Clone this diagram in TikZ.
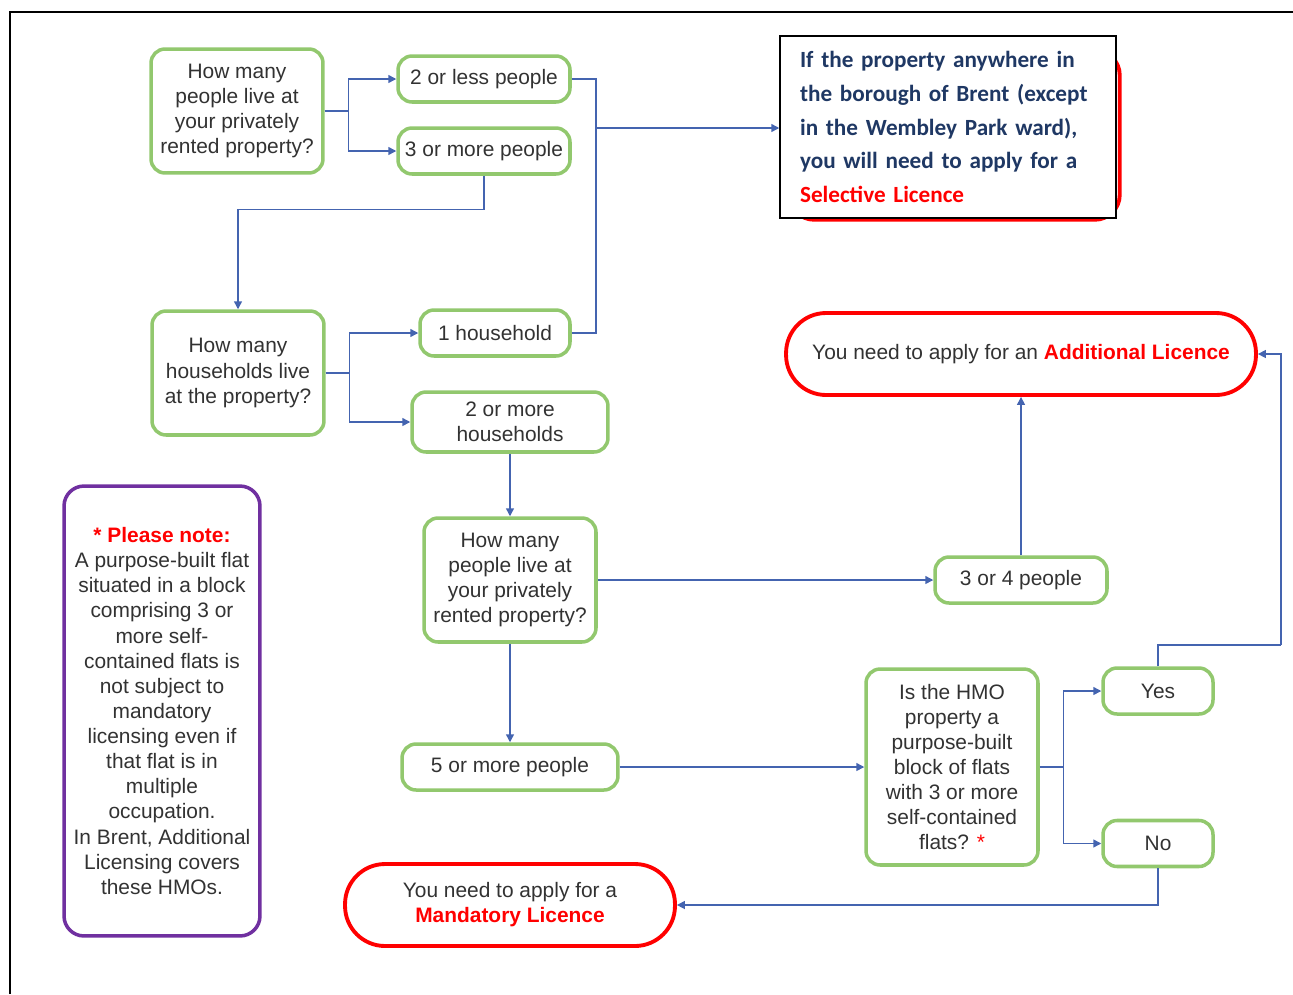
\documentclass[tikz,border=0pt]{standalone}
\usepackage{fontspec}
\setmainfont{Liberation Sans}
\newfontfamily\calibrifont{Carlito}
\usetikzlibrary{positioning, arrows.meta, backgrounds}
\definecolor{boxgreen}{RGB}{146,200,110}
\definecolor{linkblue}{RGB}{68,100,176}
\definecolor{notepurple}{RGB}{112,48,160}
\definecolor{textgrey}{RGB}{50,50,50}
\definecolor{selnavy}{RGB}{31,56,100}
\tikzstyle{greenbox} = [
    rectangle, rounded corners=8pt, draw=boxgreen, line width=2pt, fill=white,
    text=textgrey, align=center, inner sep=2pt,
    font=\fontsize{11.9pt}{14.3pt}\selectfont
]
\tikzstyle{question} = [greenbox, minimum width=3.44cm, minimum height=2.48cm]
\tikzstyle{answer} = [greenbox, minimum width=3.44cm, minimum height=0.92cm]
\tikzstyle{outcome} = [
    greenbox, draw=red, line width=2.2pt, rounded corners=0.8cm,
    minimum height=1.64cm
]
\tikzstyle{notebox} = [
    greenbox, draw=notepurple, rounded corners=0.4cm,
    minimum width=3.92cm, minimum height=9cm
]
\tikzstyle{selbox} = [
    rectangle, draw=black, line width=0.9pt, fill=white,
    minimum width=6.72cm, minimum height=3.64cm, text width=5.92cm, align=left,
    text=selnavy, font=\calibrifont\bfseries\fontsize{13.2pt}{19.3pt}\selectfont
]
\tikzstyle{wire} = [draw=linkblue, line width=0.8pt]
\tikzstyle{link} = [wire, -{Triangle[length=4.5pt,width=4.5pt]}]

\begin{document}
\begin{tikzpicture}[x=0.02cm, y=-0.02cm]
        \useasboundingbox (0,0) rectangle (1293,994);
        % page frame (top and left edge only)
        \draw[line width=0.7pt] (10,994) -- (10,12) -- (1293,12);

        % Questions
        \node[question] (q1) at (237,111) {How many\\people live at\\your privately\\rented property?};
        \node[question] (q2) at (238,373) {How many\\households live\\at the property?};
        \node[question] (q3) at (510,580) {How many\\people live at\\your privately\\rented property?};
        \node[question, minimum height=3.92cm] (hmo) at (952,767) {Is the HMO\\property a\\purpose-built\\block of flats\\with 3 or more\\self-contained\\flats? \textcolor{red}{*}};

        % Answers
        \node[answer] (less2) at (484,79) {2 or less people};
        \node[answer] (more3) [below=0.45cm of less2] {3 or more people};
        \node[answer, minimum width=3cm] (hh1) at (495,333) {1 household};
        \node[answer, minimum width=3.92cm, minimum height=1.2cm] (hh2) at (510,422) {2 or more\\households};
        \node[answer] (p34) at (1021,580) {3 or 4 people};
        \node[answer, minimum width=4.32cm] (p5) at (510,767) {5 or more people};
        \node[answer, minimum width=2.2cm] (yes) at (1158,691) {Yes};
        \node[answer, minimum width=2.2cm] (no) [below=2.06cm of yes] {No};

        % Outcomes
        \node[selbox] (sel) at (948,127) {If the property anywhere in\\the borough of Brent (except\\in the Wembley Park ward),\\you will need to apply for a\\\textcolor{red}{Selective Licence}};
        \begin{scope}[on background layer]
            \draw[red, line width=2.2pt, rounded corners=0.5cm] ([xshift=0.2cm, yshift=-0.3cm]sel.north west) rectangle ([xshift=0.06cm, yshift=-0.02cm]sel.south east);
        \end{scope}
        \node[outcome, minimum width=9.4cm] (addl) at (1021,354) {You need to apply for an \textcolor{red}{\bfseries Additional Licence}};
        \node[outcome, minimum width=6.6cm] (mand) at (510,905) {You need to apply for a\\\textcolor{red}{\bfseries Mandatory Licence}};

        % Note
        \node[notebox] (note) at (162,711) {\textcolor{red}{\bfseries * Please note:}\\A purpose-built flat\\situated in a block\\comprising 3 or\\more self-\\contained flats is\\not subject to\\mandatory\\licensing even if\\that flat is in\\multiple\\occupation.\\In Brent, Additional\\Licensing covers\\these HMOs.};

        % Connectors
        \draw[link] (q1.east) -- ++(24,0) |- (less2.west);
        \draw[link] (q1.east) -- ++(24,0) |- (more3.west);
        \draw[link] (more3.south) -- ++(0,34) -| (q2.north);

        \coordinate (j1) at (596,128);
        \draw[wire] (less2.east) -| (j1);
        \draw[wire] (hh1.east) -| (j1);
        \draw[link] (j1) -- (j1 -| sel.west);

        \draw[link] (q2.east) -- ++(24,0) |- (hh1.west);
        \draw[link] (q2.east) -- ++(24,0) |- (hh2.west);
        \draw[link] (hh2.south) -- (q3.north);
        \draw[link] (q3.east) -- (p34.west);
        \draw[link] (p34.north) -- (addl.south);
        \draw[link] (q3.south) -- (p5.north);
        \draw[link] (p5.east) -- (hmo.west);

        \draw[link] (hmo.east) -- ++(24,0) |- (yes.west);
        \draw[link] (hmo.east) -- ++(24,0) |- (no.west);

        \coordinate (r1) at (1281,645);
        \draw[wire] (yes.north) |- (r1);
        \draw[link] (r1) |- (addl.east);
        \draw[link] (no.south) |- (mand.east);

    \end{tikzpicture}
\end{document}
